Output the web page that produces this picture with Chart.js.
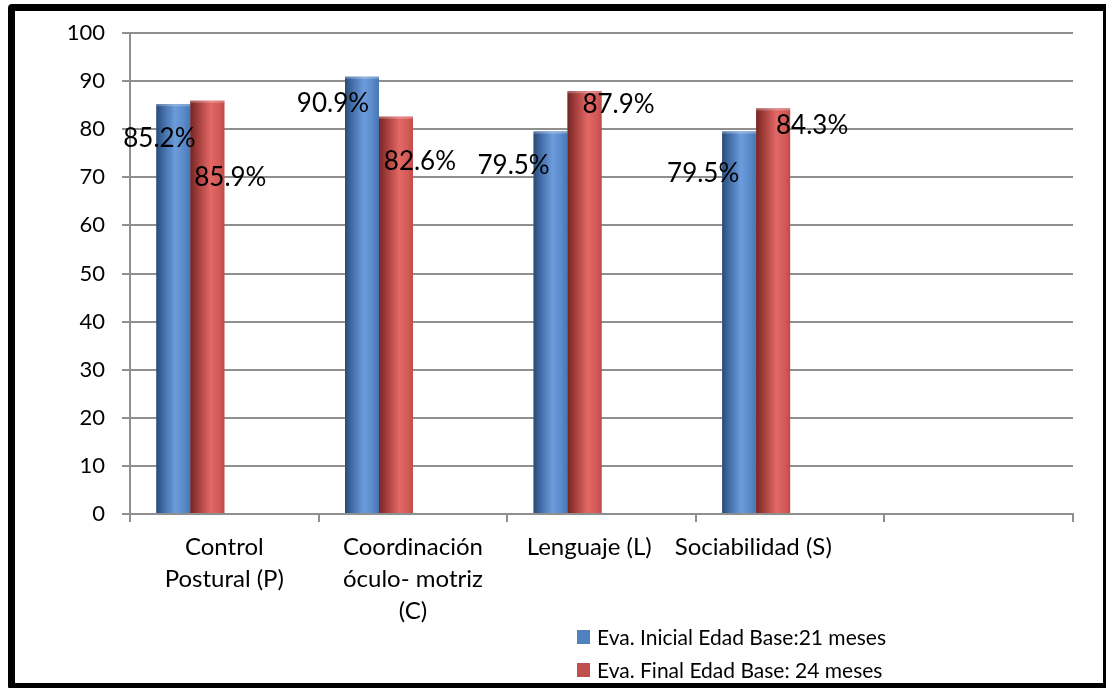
<!DOCTYPE html>
<html>
<head>
<meta charset="utf-8">
<script src="https://cdn.jsdelivr.net/npm/chart.js@4.4.1/dist/chart.umd.min.js"></script>
<style>
  html, body { margin: 0; padding: 0; background: #fff; overflow: hidden; }
  #wrap { position: relative; width: 1106px; height: 688px; }
  #chart { position: absolute; left: 0; top: 0; }
  #frame {
    position: absolute; left: 8px; top: 4px; width: 1102px; height: 686px;
    border: 7px solid #000; border-radius: 4px; box-sizing: border-box;
    pointer-events: none;
  }
  #legend {
    position: absolute; left: 577px; top: 620px;
    font-family: Lato, "Open Sans", sans-serif; font-size: 21px; color: #000;
  }
  .leg-row { display: flex; align-items: center; height: 33px; white-space: nowrap; }
  .leg-box { width: 13px; height: 14px; margin-right: 7px; }
</style>
</head>
<body>
<div id="wrap">
  <canvas id="chart" width="1106" height="688"></canvas>
  <div id="frame"></div>
  <div id="legend"></div>
</div>
<script>
// ---------- DATA ----------
const categories = [
    ['Control', 'Postural (P)'],
    ['Coordinación', 'óculo- motriz', '(C)'],
    'Lenguaje (L)    ',
    'Sociabilidad (S)            ',
    ''
];
const inicialValues = [85.2, 90.9, 79.5, 79.5, null];
const finalValues = [85.9, 82.6, 87.9, 84.3, null];
const seriesNames = ['Eva. Inicial Edad Base:21 meses', 'Eva. Final Edad Base: 24 meses'];
const yTicks = [0, 10, 20, 30, 40, 50, 60, 70, 80, 90, 100];

// ---------- STYLE ----------
const seriesColors = ['#4f81bd', '#c0504d'];
const gradStops = [
    [[0, '#2b4a73'], [0.18, '#3e68a1'], [0.55, '#6c9cdc'], [0.8, '#5b8bcb'], [1, '#4776b4']],
    [[0, '#772624'], [0.2, '#9d3b38'], [0.6, '#e36866'], [0.85, '#d35a57'], [1, '#bd4d4a']]
];
// label offset from bar top-centre (px), as placed in the original
const labelShift = [
    [[-14, 34], [-29, 27], [-37, 34], [-36, 42]],
    [[23, 77], [24, 45], [34, 13], [39, 17]]
];
const gridColor = '#8f8f8f';
const fontFamily = 'Lato, "Open Sans", sans-serif';

// ---------- PLUGIN: shaded bars + value labels ----------
const barDecor = {
    id: 'barDecor',
    afterDatasetsDraw(chart) {
        const ctx = chart.ctx;
        [0, 1].forEach(di => {
            const meta = chart.getDatasetMeta(di);
            meta.data.forEach((el, i) => {
                const v = chart.data.datasets[di].data[i];
                if (v == null) return;
                const p = el.getProps(['x', 'y', 'base', 'width'], true);
                const left = p.x - p.width / 2;
                const g = ctx.createLinearGradient(left, 0, left + p.width, 0);
                gradStops[di].forEach(s => g.addColorStop(s[0], s[1]));
                ctx.save();
                ctx.fillStyle = g;
                ctx.fillRect(left, p.y, p.width, p.base - p.y);
                ctx.fillStyle = 'rgba(255,255,255,0.25)';
                ctx.fillRect(left, p.y, p.width, 2);
                ctx.restore();
            });
        });
        ctx.save();
        ctx.font = '26px ' + fontFamily;
        ctx.fillStyle = '#000';
        ctx.textAlign = 'center';
        ctx.textBaseline = 'middle';
        [0, 1].forEach(di => {
            const meta = chart.getDatasetMeta(di);
            meta.data.forEach((el, i) => {
                const v = chart.data.datasets[di].data[i];
                if (v == null) return;
                const s = labelShift[di][i];
                ctx.fillText(v.toFixed(1) + '%', el.x + s[0], el.y + s[1]);
            });
        });
        ctx.restore();
    }
};

// ---------- CHART ----------
const chart = new Chart(document.getElementById('chart'), {
    type: 'bar',
    data: {
        labels: categories,
        datasets: [
            { label: seriesNames[0], data: inicialValues, backgroundColor: seriesColors[0] },
            { label: seriesNames[1], data: finalValues, backgroundColor: seriesColors[1] },
            { label: '', data: [null, null, null, null, null] },
            { label: '', data: [null, null, null, null, null] }
        ]
    },
    options: {
        responsive: false,
        animation: false,
        events: [],
        layout: { padding: { top: 33, right: 33, left: 0, bottom: 0 } },
        datasets: { bar: { categoryPercentage: 0.72, barPercentage: 1.0 } },
        plugins: { legend: { display: false }, tooltip: { enabled: false } },
        scales: {
            x: {
                grid: { offset: true, drawOnChartArea: false, color: gridColor, lineWidth: 2, tickLength: 8 },
                border: { color: gridColor, width: 2 },
                ticks: {
                    color: '#000', padding: 9, maxRotation: 0, autoSkip: false,
                    font: { family: fontFamily, size: 24, lineHeight: 1.33 }
                },
                afterFit(scale) { scale.height = 174; }
            },
            y: {
                min: 0, max: 100,
                afterBuildTicks(scale) { scale.ticks = yTicks.map(v => ({ value: v })); },
                grid: { color: gridColor, lineWidth: 2, tickLength: 8 },
                border: { color: gridColor, width: 2 },
                ticks: { color: '#000', padding: 17, font: { family: fontFamily, size: 22 } },
                afterFit(scale) { scale.width = 130; }
            }
        }
    },
    plugins: [barDecor]
});

// ---------- LEGEND ----------
const legendEl = document.getElementById('legend');
chart.data.datasets.slice(0, 2).forEach((ds, i) => {
    const row = document.createElement('div');
    row.className = 'leg-row';
    const box = document.createElement('span');
    box.className = 'leg-box';
    box.style.background = seriesColors[i];
    const txt = document.createElement('span');
    txt.textContent = ds.label;
    row.appendChild(box);
    row.appendChild(txt);
    legendEl.appendChild(row);
});
</script>
</body>
</html>
